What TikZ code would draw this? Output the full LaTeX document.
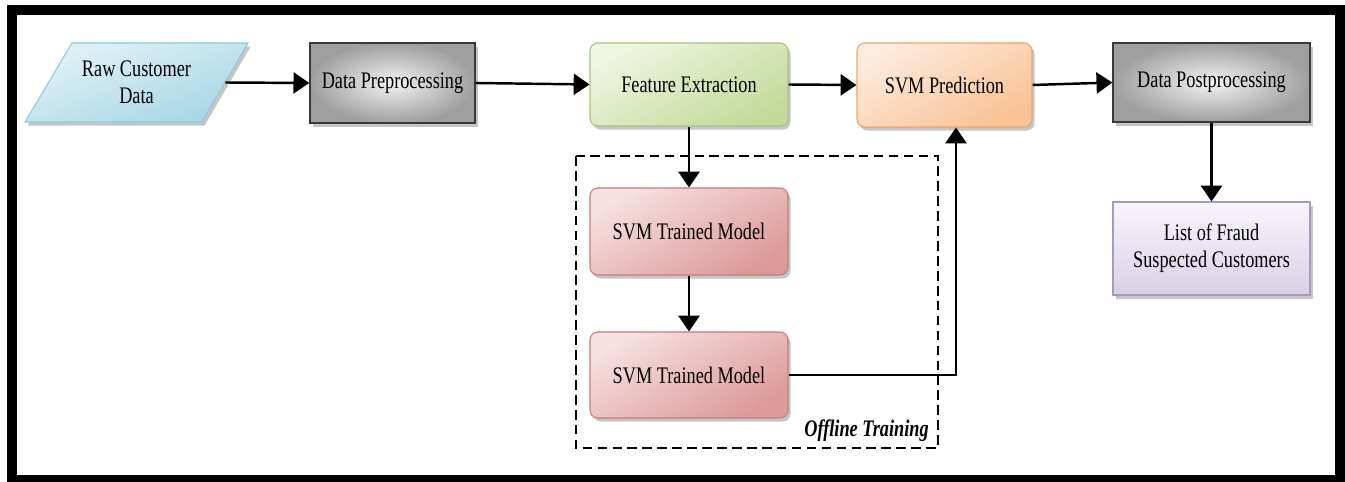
\documentclass[tikz,border=0pt]{standalone}
\usepackage{fontspec}
\setmainfont{Liberation Serif}[FakeStretch=0.77]
\usetikzlibrary{arrows.meta,shadows,calc}
\newcommand\pxl[1]{#1*0.02cm}
\definecolor{rawlight}{HTML}{E2F2F7}
\definecolor{rawdark}{HTML}{A6D6E4}
\definecolor{rawedge}{HTML}{8CCBDD}
\definecolor{grnlight}{HTML}{EEF5E0}
\definecolor{grndark}{HTML}{C4DA9B}
\definecolor{grnedge}{HTML}{A9C47A}
\definecolor{orglight}{HTML}{FDEBDD}
\definecolor{orgdark}{HTML}{F9C294}
\definecolor{orgedge}{HTML}{F2A46A}
\definecolor{redlight}{HTML}{F6E0E0}
\definecolor{reddark}{HTML}{DC9A99}
\definecolor{rededge}{HTML}{C97B7A}
\definecolor{lavlight}{HTML}{F8F6FB}
\definecolor{lavdark}{HTML}{D9D0E6}
\definecolor{lavedge}{HTML}{A999C2}
\tikzset{
  lbl/.style={font=\fontsize{13.5}{15.5}\selectfont, align=center, text=black},
  shd/.style={drop shadow={shadow xshift=1.5pt, shadow yshift=-2pt, opacity=0.45, fill=gray}},
  graybox/.style={lbl, shd, draw=gray!45!black, line width=0.8pt, inner color=gray!10, outer color=gray!75, rectangle},
  greenbox/.style={lbl, shd, draw=grnedge, line width=0.6pt, rounded corners=4.5pt, top color=grnlight, bottom color=grndark, shading angle=30},
  orangebox/.style={lbl, shd, draw=orgedge, line width=0.6pt, rounded corners=4.5pt, top color=orglight, bottom color=orgdark, shading angle=30},
  redbox/.style={lbl, shd, draw=rededge, line width=0.6pt, rounded corners=4.5pt, top color=redlight, bottom color=reddark, shading angle=30},
  lavbox/.style={lbl, shd, draw=lavedge, line width=0.6pt, top color=lavlight, bottom color=lavdark},
  arr/.style={line width=1.4pt, -{Triangle[length=9pt, width=12pt]}},
}
\begin{document}
\begin{tikzpicture}[x=0.02cm, y=-0.02cm]
\useasboundingbox (0,0) rectangle (1345,482);
\fill[white] (0,0) rectangle (1345,482);
\draw[line width=0.2cm] (12,10.5) rectangle (1340,480);

% raw customer data parallelogram
\path[shd, draw=rawedge, line width=0.6pt, top color=rawlight, bottom color=rawdark, shading angle=20]
  (25,122) -- (72,43) -- (248,43) -- (202,122) -- cycle;
\node[lbl, minimum width=\pxl{177}, minimum height=\pxl{80}] (raw) at (136.5,82.5) {Raw Customer\\Data};

\node[graybox, minimum width=\pxl{165}, minimum height=\pxl{80}] (pre) at (392.5,83) {Data Preprocessing};
\node[greenbox, minimum width=\pxl{198}, minimum height=\pxl{83}] (fe) at (689,84.5) {Feature Extraction};
\node[orangebox, minimum width=\pxl{175}, minimum height=\pxl{84}] (pred) at (944.5,85) {SVM Prediction};
\node[graybox, minimum width=\pxl{197}, minimum height=\pxl{79}] (post) at (1211.5,82.5) {Data Postprocessing};
\node[lavbox, minimum width=\pxl{197}, minimum height=\pxl{93}] (list) at (1211.5,248.5) {List of Fraud\\Suspected Customers};

\node[redbox, minimum width=\pxl{198}, minimum height=\pxl{87}] (stm1) at (689,231.5) {SVM Trained Model};
\node[redbox, minimum width=\pxl{198}, minimum height=\pxl{86}] (stm2) at (689,375) {SVM Trained Model};

\draw[dashed, dash pattern=on 5.5pt off 3pt, line width=1.1pt] (576,156) rectangle (938,448);
\node[font=\fontsize{13.5}{15.5}\selectfont\bfseries\itshape, anchor=base east, inner sep=0pt] (off) at (929,437) {Offline Training};

\coordinate (kx) at (956,0);
\draw[arr] (raw.east) -- (pre.west);
\draw[arr] (pre.east) -- (fe.west);
\draw[arr] (fe.east) -- (pred.west);
\draw[arr] (pred.east) -- (post.west);
\draw[arr] (post.south) -- (list.north);
\draw[arr] (fe.south) -- (stm1.north);
\draw[arr] (stm1.south) -- (stm2.north);
\draw[arr] (stm2.east) -| (kx |- pred.south);
\end{tikzpicture}
\end{document}
